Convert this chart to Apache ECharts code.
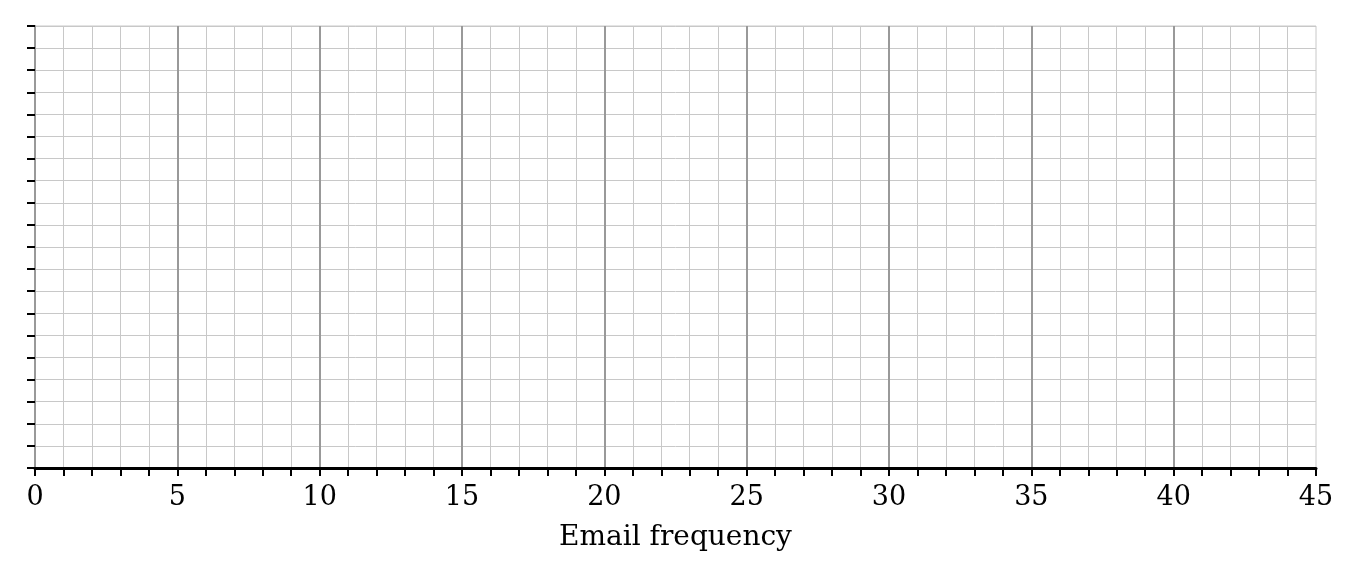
<!DOCTYPE html>
<html>
<head>
<meta charset="utf-8">
<script src="https://cdn.jsdelivr.net/npm/echarts@6/dist/echarts.min.js"></script>
<style>
html, body { margin: 0; padding: 0; background: #fff; }
#chart { width: 1360px; height: 578px; }
</style>
</head>
<body>
<div id="chart"></div>
<script>
// axis ranges (no data points shown)
var xRange = [0, 45];
var yRange = [0, 20];
var xStep = 5;
var yStep = 1;
var emailPoints = [];

var chart = echarts.init(document.getElementById('chart'));

var option = {
	animation: false,
	grid: {
		left: 35,
		right: 44,
		top: 26,
		bottom: 110,
		show: true,
		borderColor: '#c8c8c8',
		borderWidth: 1
	},
	xAxis: {
		type: 'value',
		min: xRange[0],
		max: xRange[1],
		interval: xStep,
		name: 'Email frequency',
		nameLocation: 'middle',
		nameGap: 56,
		nameTextStyle: { fontFamily: 'DejaVu Serif', fontSize: 28, color: '#000' },
		axisLine: { show: true, onZero: false, lineStyle: { color: '#000', width: 3 } },
		axisTick: { show: true, length: 8, lineStyle: { color: '#000', width: 2 } },
		minorTick: { show: true, splitNumber: 5, length: 8, lineStyle: { color: '#000', width: 2 } },
		axisLabel: { fontFamily: 'DejaVu Serif', fontSize: 27, color: '#000', margin: 16 },
		splitLine: { show: true, showMinLine: false, showMaxLine: false, lineStyle: { color: '#999', width: 2 } },
		minorSplitLine: { show: true, lineStyle: { color: '#c8c8c8', width: 1 } }
	},
	yAxis: {
		type: 'value',
		min: yRange[0],
		max: yRange[1],
		interval: yStep,
		axisLine: { show: true, onZero: false, lineStyle: { color: '#999', width: 2 } },
		axisTick: { show: true, length: 8, lineStyle: { color: '#000', width: 2 } },
		axisLabel: { show: false },
		splitLine: { show: true, lineStyle: { color: '#c8c8c8', width: 1 } }
	},
	series: [{
		name: 'Email frequency',
		type: 'scatter',
		data: emailPoints
	}]
};

chart.setOption(option);
</script>
</body>
</html>
